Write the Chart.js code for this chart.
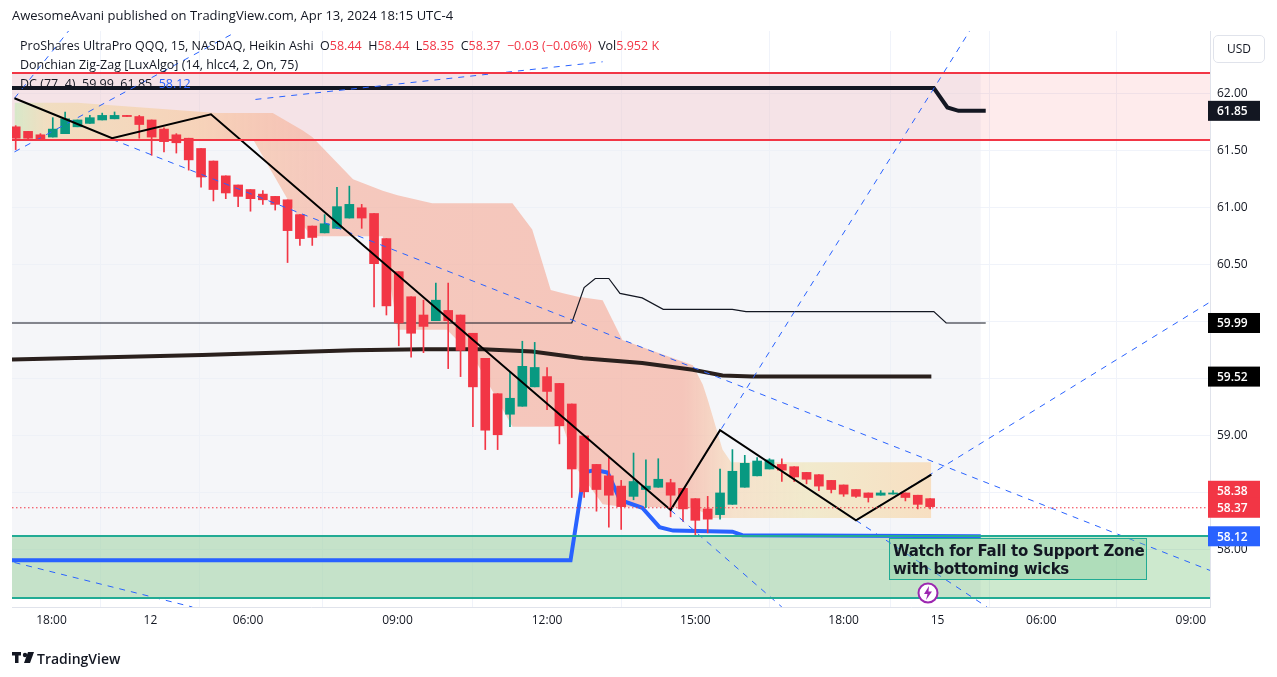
<!DOCTYPE html>
<html><head><meta charset="utf-8">
<script src="https://cdn.jsdelivr.net/npm/chart.js@4.4.1/dist/chart.umd.min.js"></script>
<style>
body{margin:0;background:#fff;font-family:"Open Sans",sans-serif;color:#131722;}
#wrap{position:relative;width:1277px;height:677px;overflow:hidden}
canvas{position:absolute;left:0;top:0}
.t{position:absolute;white-space:pre;font-size:12.5px}
.r{color:#f23645}.b{color:#2962ff}
</style></head><body>
<div id="wrap">
<canvas id="c" width="1277" height="677"></canvas>
<div class="t" style="left:12px;top:6px;font-size:13px">AwesomeAvani published on TradingView.com, Apr 13, 2024 18:15 UTC-4</div>
<div class="t" style="left:20px;top:37px">ProShares UltraPro QQQ, 15, NASDAQ, Heikin Ashi  O<span class="r">58.44</span>  H<span class="r">58.44</span>  L<span class="r">58.35</span>  C<span class="r">58.37</span>  <span class="r">−0.03 (−0.06%)</span>  Vol<span class="r">5.952 K</span></div>
<div class="t" style="left:20px;top:56px">Donchian Zig-Zag [LuxAlgo] (14, hlcc4, 2, On, 75)</div>
<div class="t" style="left:20px;top:75px">DC (77, 4)  59.99  61.85  <span class="b">58.12</span></div>
<div class="t" style="left:1213px;top:35px;width:50px;height:26px;border:1px solid #e0e3eb;border-radius:5px;text-align:center;line-height:26px;font-size:12px">USD</div>
<div class="t" style="left:889px;top:538px;width:258px;height:42px;border:1px solid #22ab94;background:rgba(120,200,150,0.35);font-family:'DejaVu Sans';font-weight:bold;font-size:15px;line-height:18px;padding:3px 0 0 3px;box-sizing:border-box;color:#131722;letter-spacing:-0.3px">Watch for Fall to Support Zone
with bottoming wicks</div>
<svg style="position:absolute;left:917px;top:582px" width="22" height="22"><circle cx="11" cy="11" r="9.5" fill="#fff" stroke="#9c27b0" stroke-width="2"/><polygon points="12,4 7,12 10.5,12 9,18 15,9.5 11.5,9.5" fill="#9c27b0"/></svg>
<svg style="position:absolute;left:12px;top:651px" width="26" height="14"><rect x="0" y="1" width="9" height="3.5" fill="#131722"/><rect x="3" y="1" width="3.5" height="11" fill="#131722"/><circle cx="13" cy="4" r="2.2" fill="#131722"/><polygon points="16,1 22,1 18,12 12,12" fill="#131722"/></svg>
<div class="t" style="left:37px;top:649px;font-size:14px;font-weight:600">TradingView</div>
</div>
<script>
// Heikin Ashi candles: open, high, low, close (bar index = position)
const opens =[61.71,61.67,61.64,61.62,61.65,61.71,61.74,61.77,61.78,61.81,61.80,61.77,61.69,61.64,61.61,61.52,61.41,61.28,61.20,61.16,61.12,61.10,61.07,60.94,60.84,60.78,60.82,60.91,61.00,60.95,60.73,60.44,60.22,60.06,60.01,60.10,60.06,59.90,59.68,59.37,59.19,59.26,59.43,59.52,59.46,59.28,59.00,58.75,58.65,58.56,58.47,58.53,58.55,58.59,58.54,58.45,58.36,58.31,58.40,58.55,58.65,58.71,58.75,58.73,58.68,58.66,58.61,58.57,58.53,58.50,58.48,58.49,58.50,58.48,58.45];
const highs =[61.72,61.67,61.65,61.79,61.84,61.77,61.81,61.83,61.84,61.81,61.81,61.77,61.70,61.65,61.61,61.52,61.41,61.28,61.20,61.16,61.15,61.10,61.07,60.94,60.84,60.94,61.18,61.19,61.03,60.95,60.73,60.44,60.22,60.19,60.34,60.34,60.06,59.90,59.68,59.37,59.56,59.83,59.82,59.60,59.46,59.28,59.00,58.75,58.81,58.61,58.85,58.79,58.80,58.62,58.54,58.45,58.47,58.71,58.88,58.83,58.81,58.80,58.80,58.73,58.68,58.66,58.61,58.57,58.53,58.50,58.52,58.52,58.50,58.48,58.45];
const lows  =[61.51,61.59,61.59,61.62,61.65,61.71,61.74,61.77,61.78,61.80,61.61,61.46,61.49,61.48,61.33,61.18,61.06,61.08,61.01,60.97,61.03,60.98,60.52,60.67,60.67,60.78,60.82,60.91,60.82,60.13,60.06,59.79,59.69,59.73,60.01,59.59,59.52,59.08,58.88,58.88,59.08,59.26,59.43,59.23,58.93,58.46,58.46,58.34,58.20,58.18,58.44,58.37,58.55,58.29,58.25,58.13,58.15,58.27,58.40,58.55,58.65,58.71,58.60,58.60,58.58,58.52,58.50,58.47,58.46,58.42,58.48,58.49,58.43,58.36,58.36];
const closes=[61.61,61.61,61.60,61.69,61.78,61.77,61.79,61.81,61.81,61.80,61.73,61.62,61.58,61.57,61.42,61.27,61.16,61.13,61.10,61.08,61.07,61.03,60.80,60.73,60.74,60.86,61.01,61.03,60.91,60.51,60.14,59.99,59.90,59.96,60.19,60.01,59.75,59.43,59.05,59.01,59.33,59.61,59.60,59.39,59.09,58.71,58.51,58.53,58.48,58.38,58.60,58.56,58.62,58.48,58.36,58.26,58.27,58.50,58.69,58.76,58.78,58.79,58.70,58.64,58.62,58.56,58.53,58.49,58.47,58.46,58.50,58.50,58.46,58.40,58.38];

// time axis (bar index) and labels
const timeTickPos =[2.9,10.9,18.8,30.9,43.0,55.0,67.0,74.6,83.0,95.1];
const timeTickLbl =["18:00","12","06:00","09:00","12:00","15:00","18:00","15","06:00","09:00"];
const priceTicks =[58,58.5,59,59.5,60,60.5,61,61.5,62];

// Zig-zag
const zzX=[-0.1,7.8,15.8,53.0,57.0,68.0,74.1];
const zzY=[61.96,61.61,61.82,58.35,59.05,58.26,58.66];
// Donchian upper
const dcUpX=[-0.3,74.3,75.4,76.3,78.5];
const dcUpY=[62.05,62.05,61.88,61.85,61.85];
// Donchian mid
const dcMidX=[-0.3,45.0,46.0,46.9,48.0,48.9,50.7,52.4,58.0,59.1,74.3,75.3,78.5];
const dcMidY=[59.99,59.99,60.30,60.38,60.38,60.25,60.21,60.11,60.11,60.09,60.09,59.99,59.99];
// Donchian lower
const dcLowX=[-0.3,44.9,46.0,46.9,47.9,48.9,50.7,52.1,53.2,58.0,58.8,78.1];
const dcLowY=[57.91,57.91,58.68,58.70,58.68,58.44,58.37,58.20,58.17,58.16,58.13,58.12];
// moving average
const maX=[-0.3,15.1,27.3,32.9,37.8,41.8,45.9,50.7,54.8,57.2,59.6,74.1];
const maY=[59.67,59.71,59.75,59.76,59.76,59.74,59.68,59.64,59.58,59.53,59.52,59.52];
// cloud
const cloudX=[-0.1,5,16.3,19.2,20.8,23.2,24,27.3,29.7,30.9,33.7,34.9,37,40.2,41.8,43.3,44.3,45.5,47.5,49.1,54.8,55.6,56,57.2,57.9,74.1];
const cloudHi=[61.92,61.92,61.83,61.83,61.83,61.68,61.62,61.25,61.15,61.11,61.04,61.04,61.04,61.04,60.81,60.28,60.25,60.22,60.19,59.84,59.62,59.45,59.32,58.88,58.77,58.77];
const cloudLo=[61.60,61.60,61.60,61.60,61.30,60.85,60.75,60.75,60.75,59.93,59.93,59.93,59.70,59.08,59.08,59.08,59.08,58.70,58.40,58.38,58.37,58.33,58.28,58.28,58.28,58.28];
// dashed trend lines [x1,y1,x2,y2]
const trendLines=[[-0.1,61.49,17.8,62.54],[-0.1,61.96,4.35,62.56],[19.4,61.95,47.5,62.28],[7.8,61.60,96.9,57.81],[53.0,58.35,77.2,62.55],[53.0,58.35,62.0,57.50],[68.0,58.26,78.6,57.50],[68.0,58.26,96.9,60.19],[-0.1,57.89,14.3,57.50]];
// zones
const resistZone=[62.18,61.59];
const supportZone=[58.12,57.58];
const panelEnd=78.1;
const lastPrice=58.37;
const priceTags=[[61.85,"#131722"],[59.99,"#000000"],[59.52,"#000000"],[58.38,"#f23645"],[58.37,"#f23645"],[58.12,"#2962ff"]];

const GREEN="#089981", RED="#f23645";
const idx=opens.map((_,i)=>i);
const col=idx.map(i=>closes[i]>=opens[i]?GREEN:RED);
const pts=(xs,ys)=>xs.map((x,i)=>({x,y:ys[i]}));
const line=(data,color,w,extra)=>Object.assign({type:'line',data,borderColor:color,borderWidth:w,pointRadius:0,tension:0,fill:false},extra||{});

function cloudGrad(ctx){
  const ch=ctx.chart, ca=ch.chartArea; if(!ca) return 'rgba(245,160,140,0.5)';
  const xs=ch.scales.x, g=ch.ctx.createLinearGradient(ca.left,0,ca.right,0);
  const stops=[[-0.3,'rgba(205,235,195,0.8)'],[2.5,'rgba(240,220,180,0.75)'],[15,'rgba(247,205,170,0.75)'],[25,'rgba(245,170,150,0.6)'],[54,'rgba(245,165,145,0.6)'],[58,'rgba(246,215,180,0.65)'],[64,'rgba(240,230,190,0.75)'],[74.2,'rgba(248,215,175,0.75)']];
  const w=ca.right-ca.left;
  stops.forEach(s=>{let p=(xs.getPixelForValue(s[0])-ca.left)/w; g.addColorStop(Math.min(1,Math.max(0,p)),s[1]);});
  return g;
}

const datasets=[
  line(pts(cloudX,cloudHi),'rgba(0,0,0,0)',0,{fill:'+1',backgroundColor:cloudGrad,order:20}),
  line(pts(cloudX,cloudLo),'rgba(0,0,0,0)',0,{order:20}),
  line(pts(maX,maY),'#2a201d',4,{order:15}),
  line(pts(dcMidX,dcMidY),'#131722',1.2,{order:15}),
  line(pts(dcUpX,dcUpY),'#131722',4,{order:15}),
  line(pts(dcLowX,dcLowY),'#2962ff',4,{order:15}),
];
trendLines.forEach(t=>datasets.push(line([{x:t[0],y:t[1]},{x:t[2],y:t[3]}],'#2962ff',1,{borderDash:[6,6],order:3})));
datasets.push({type:'bar',data:idx.map(i=>({x:i,y:[lows[i],highs[i]]})),backgroundColor:col,barThickness:1,grouped:false,order:6});
datasets.push({type:'bar',data:idx.map(i=>({x:i,y:[opens[i],closes[i]]})),backgroundColor:col,barThickness:9,minBarLength:1,grouped:false,order:5});
datasets.push(line(pts(zzX,zzY),'#000',2,{order:1}));

const bgPlugin={id:'bg',beforeDatasetsDraw(ch){
  const c=ch.ctx,ca=ch.chartArea,x=ch.scales.x,y=ch.scales.y;
  c.save();
  const pr=x.getPixelForValue(panelEnd);
  c.fillStyle='rgba(236,239,244,0.55)';
  c.fillRect(ca.left,y.getPixelForValue(resistZone[0]),pr-ca.left,y.getPixelForValue(supportZone[1])-y.getPixelForValue(resistZone[0]));
  let t=y.getPixelForValue(resistZone[0]),b=y.getPixelForValue(resistZone[1]);
  c.fillStyle='rgba(242,54,69,0.1)';c.fillRect(ca.left,t,ca.right-ca.left,b-t);
  t=y.getPixelForValue(supportZone[0]);b=y.getPixelForValue(supportZone[1]);
  c.fillStyle='rgba(76,175,80,0.28)';c.fillRect(ca.left,t,ca.right-ca.left,b-t);
  c.restore();
},afterDatasetsDraw(ch){
  const c=ch.ctx,ca=ch.chartArea,y=ch.scales.y;
  c.save();
  [[resistZone,'#f23645'],[supportZone,'#22ab94']].forEach(([z,cl])=>{c.strokeStyle=cl;c.lineWidth=2;z.forEach(v=>{const p=Math.round(y.getPixelForValue(v));c.beginPath();c.moveTo(ca.left,p);c.lineTo(ca.right,p);c.stroke();});});
  const lp=y.getPixelForValue(lastPrice);
  c.strokeStyle=RED;c.lineWidth=1;c.setLineDash([1.5,2.5]);c.beginPath();c.moveTo(ca.left,lp);c.lineTo(ca.right,lp);c.stroke();c.setLineDash([]);
  c.font='600 12px "Open Sans"';c.textBaseline='middle';
  // label placement: push overlapping tags apart (from bottom up)
  const pos=priceTags.map(([v])=>y.getPixelForValue(v));
  for(let i=pos.length-2;i>=0;i--){ if(pos[i+1]-pos[i]<17) pos[i]=pos[i+1]-17; }
  priceTags.forEach(([v,cl],i)=>{const p=pos[i];c.fillStyle=cl;c.fillRect(ca.right-2,p-10,52,20);c.fillStyle='#fff';c.fillText(v.toFixed(2),ca.right+7,p+1);});
  c.restore();
}};

new Chart(document.getElementById('c'),{
  data:{datasets},
  options:{responsive:false,animation:false,events:[],
    layout:{padding:{left:12,top:31,right:0,bottom:30}},
    plugins:{legend:{display:false},tooltip:{enabled:false}},
    scales:{
      x:{type:'linear',min:-0.3,max:96.65,offset:false,
        afterBuildTicks(s){s.ticks=timeTickPos.map(v=>({value:v}));},
        afterFit(s){s.height=40;},
        ticks:{autoSkip:false,maxRotation:0,color:'#131722',font:{size:12,family:'Open Sans'},padding:6,callback:(v,i)=>timeTickLbl[i]},
        grid:{color:'#f0f3fa',drawTicks:false},border:{color:'#e0e3eb'}},
      y:{type:'linear',position:'right',min:57.50,max:62.55,
        afterBuildTicks(s){s.ticks=priceTicks.map(v=>({value:v}));},
        afterFit(s){s.width=67;},
        ticks:{color:'#131722',font:{size:12,family:'Open Sans'},padding:7,callback:v=>v.toFixed(2)},
        grid:{color:'#f0f3fa',drawTicks:false},border:{color:'#e0e3eb'}}
    }}
  ,plugins:[bgPlugin]});
</script>
</body></html>
